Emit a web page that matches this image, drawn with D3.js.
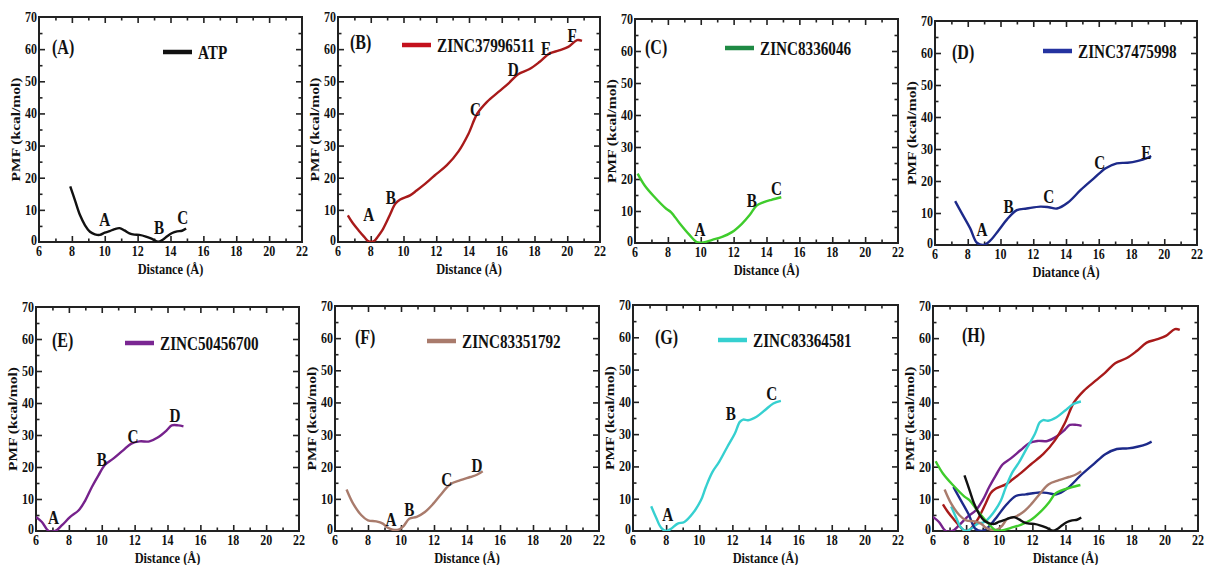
<!DOCTYPE html>
<html lang="en">
<head>
    <meta charset="UTF-8">
    <title>PMF profiles</title>
    <script src="https://d3js.org/d3.v7.min.js"></script>
    <style>
        body {
            margin: 0;
            background: #fff;
        }
        svg text {
            font-family: "Liberation Serif", "Times New Roman", serif;
            font-weight: bold;
            fill: #111;
        }
    </style>
</head>
<body>
    <svg id="chart" width="1206" height="565"></svg>

    <script>
        // PMF curves, [distance, pmf]
        const atp = [[7.9,17.3],[8.2,12.8],[8.5,8.3],[8.8,5.2],[9.1,3.2],[9.4,2.4],[9.7,2.2],[10.0,2.9],[10.3,3.4],[10.6,4.0],[10.9,4.3],[11.2,3.6],[11.5,2.7],[11.8,2.3],[12.1,2.2],[12.5,1.7],[12.9,0.9],[13.25,0.1],[13.55,0.8],[13.8,1.8],[14.1,2.8],[14.4,3.3],[14.7,3.5],[14.95,4.2]];
        const zinc37996511 = [[6.6,8.3],[6.9,5.9],[7.26,3.6],[7.6,1.6],[7.87,0.2],[8.2,0.3],[8.45,1.8],[8.7,3.6],[9.0,6.6],[9.2,8.8],[9.5,11.9],[9.8,13.2],[10.4,14.5],[10.8,16],[11.2,17.6],[11.9,20.7],[12.65,23.9],[13.36,28.2],[13.97,33.7],[14.5,39.9],[15.1,43.6],[15.8,46.7],[16.4,49.3],[17.0,52.2],[17.7,53.8],[18.3,56.0],[18.9,58.6],[19.5,59.6],[20.06,60.7],[20.6,62.8],[20.9,62.6]];
        const zinc8336046 = [[6.16,21.7],[6.6,17.9],[7.2,14.3],[7.9,10.7],[8.2,9.6],[8.7,6.25],[9.3,2.6],[9.75,0.3],[10.16,0.2],[10.7,1.0],[11.3,1.9],[11.9,3.4],[12.5,6.0],[13.0,8.9],[13.4,11.7],[13.8,12.7],[14.3,13.5],[14.9,14.3]];
        const zinc37475998 = [[7.23,13.7],[7.64,9.9],[8.15,5.2],[8.56,0.7],[8.97,0],[9.37,1.35],[9.9,4.7],[10.4,8.0],[11.0,10.9],[11.6,11.4],[12.44,12.0],[12.95,11.8],[13.45,11.4],[14.1,13.2],[14.9,17.2],[15.7,20.8],[16.4,23.9],[17.1,25.5],[17.76,25.7],[18.4,26.3],[18.9,27.05],[19.2,27.8]];
        const zinc50456700 = [[6.0,4.4],[6.36,2.8],[6.77,0],[7.17,0],[7.58,1.8],[8.08,4.4],[8.6,6.5],[9.0,9.6],[9.4,13.75],[9.8,17.4],[10.2,20.7],[10.7,22.6],[11.3,25.2],[11.8,27.3],[12.3,28.0],[12.9,28.0],[13.4,29.2],[13.96,31.5],[14.26,33.0],[14.66,33.0],[14.97,32.7]];
        const zinc83351792 = [[6.7,12.9],[7.1,8.5],[7.6,4.9],[8.0,3.3],[8.5,3.0],[8.9,2.3],[9.2,1.0],[9.5,0.4],[9.84,0.4],[10.14,1.45],[10.5,3.8],[10.95,4.4],[11.45,5.9],[11.96,8.5],[12.46,11.6],[12.97,14.5],[13.6,15.8],[14.2,16.8],[14.6,17.5],[14.95,18.6]];
        const zinc83364581 = [[7.1,7.65],[7.4,4.1],[7.7,1.0],[8.0,0],[8.3,0.7],[8.7,2.3],[9.1,2.8],[9.6,5.4],[10.1,9.5],[10.4,13.65],[10.8,18.3],[11.2,21.4],[11.7,26.1],[12.15,30.2],[12.45,33.8],[12.65,34.5],[12.95,34.3],[13.46,35.4],[13.96,37.4],[14.47,39.5],[14.93,40.3]];

        const seriesNames = ["ATP", "ZINC37996511", "ZINC8336046", "ZINC37475998", "ZINC50456700", "ZINC83351792", "ZINC83364581"];
        const seriesData = [atp, zinc37996511, zinc8336046, zinc37475998, zinc50456700, zinc83351792, zinc83364581];

        // point labels [letter, distance, pmf]
        const annA = [["A",10.0,6.9],["B",13.3,4.3],["C",14.75,7.4]];
        const annB = [["A",7.87,8.5],["B",9.23,13.7],["C",14.4,41.2],["D",16.7,53.6],["E",18.7,60.0],["F",20.3,64.2]];
        const annC = [["A",9.95,4.2],["B",13.1,13.2],["C",14.6,16.9]];
        const annD = [["A",8.87,4.7],["B",10.5,12.0],["C",12.95,14.9],["C",16.06,25.5],["E",18.9,28.8]];
        const annE = [["A",7.07,4.2],["B",10.0,22.1],["C",11.9,29.4],["D",14.46,36.1]];
        const annF = [["A",9.4,3.3],["B",10.5,6.6],["C",12.77,16.0],["D",14.6,20.1]];
        const annG = [["A",8.1,4.9],["B",11.9,36.4],["C",14.37,42.6]];

        const panelLetters = ["(A)", "(B)", "(C)", "(D)", "(E)", "(F)", "(G)", "(H)"];
        const xTicks = [6, 8, 10, 12, 14, 16, 18, 20, 22];
        const yTicks = [0, 10, 20, 30, 40, 50, 60, 70];

        // styling
        const lineColors = ["#111111", "#a81a1a", "#3fcc2c", "#1d2a8a", "#76228c", "#a97b6c", "#36d0d0"];
        const legendColors = ["#111111", "#c4111d", "#1f8a44", "#2433a0", "#7a2692", "#a97b6c", "#36d0d0"];
        const SQ = 0.8; // picture is squeezed horizontally

        // frame boxes [left, right, top, bottom], legend offset, label offset
        const panels = [
            { box: [39, 302, 17, 242],  series: [0], ann: annA, leg: [124, 35], lab: [13, 30], xt: "Distance (Å)" },
            { box: [338, 600, 17, 242], series: [1], ann: annB, leg: [64, 28],  lab: [12, 25], xt: "Distance (Å)" },
            { box: [635, 898, 19, 243], series: [2], ann: annC, leg: [90, 29],  lab: [10, 28], xt: "Distance (Å)" },
            { box: [935, 1197, 21, 245], series: [3], ann: annD, leg: [108, 30], lab: [17, 31], xt: "Diatance (Å)" },
            { box: [36, 299, 307, 531], series: [4], ann: annE, leg: [89, 36],  lab: [16, 33], xt: "Distance (Å)" },
            { box: [335, 599, 306, 531], series: [5], ann: annF, leg: [92, 35], lab: [20, 31], xt: "Distance (Å)" },
            { box: [633, 898, 305, 531], series: [6], ann: annG, leg: [85, 35], lab: [22, 32], xt: "Distance (Å)" },
            { box: [933, 1198, 306, 531], series: [4, 1, 6, 3, 5, 2, 0], ann: [], leg: null, lab: [29, 29], xt: "Distance (Å)" }
        ];

        const svg = d3.select("#chart");

        function squeezedText(g, x, y, str, size, anchor, rot) {
            return g.append("text")
                .attr("transform", `translate(${x},${y}) scale(${SQ},1)` + (rot ? ` rotate(${rot})` : ""))
                .attr("text-anchor", anchor)
                .attr("dominant-baseline", "central")
                .style("font-size", size + "px")
                .text(str);
        }

        panels.forEach((p, i) => {
            const [l, r, t, b] = p.box;
            const x = d3.scaleLinear().domain([6, 22]).range([l, r]);
            const y = d3.scaleLinear().domain([0, 70]).range([b, t]);
            const g = svg.append("g");

            g.append("clipPath").attr("id", "clip" + i)
                .append("rect").attr("x", l).attr("y", t - 4).attr("width", r - l).attr("height", b - t + 4);

            // inward ticks on all four sides
            const minorX = d3.range(7, 22, 2), minorY = d3.range(5, 70, 10);
            const tickStyle = sel => sel.call(s => s.select(".domain").remove())
                .call(s => s.selectAll("line").attr("stroke", "#222").attr("stroke-width", 1.6))
                .call(s => s.selectAll("text").remove());
            g.append("g").attr("transform", `translate(0,${b})`).call(d3.axisTop(x).tickValues(xTicks.slice(1, -1)).tickSize(6)).call(tickStyle);
            g.append("g").attr("transform", `translate(0,${b})`).call(d3.axisTop(x).tickValues(minorX).tickSize(3.5)).call(tickStyle);
            g.append("g").attr("transform", `translate(0,${t})`).call(d3.axisBottom(x).tickValues(xTicks.slice(1, -1)).tickSize(6)).call(tickStyle);
            g.append("g").attr("transform", `translate(0,${t})`).call(d3.axisBottom(x).tickValues(minorX).tickSize(3.5)).call(tickStyle);
            g.append("g").attr("transform", `translate(${l},0)`).call(d3.axisRight(y).tickValues(yTicks.slice(1, -1)).tickSize(6)).call(tickStyle);
            g.append("g").attr("transform", `translate(${l},0)`).call(d3.axisRight(y).tickValues(minorY).tickSize(3.5)).call(tickStyle);
            g.append("g").attr("transform", `translate(${r},0)`).call(d3.axisLeft(y).tickValues(yTicks.slice(1, -1)).tickSize(6)).call(tickStyle);
            g.append("g").attr("transform", `translate(${r},0)`).call(d3.axisLeft(y).tickValues(minorY).tickSize(3.5)).call(tickStyle);

            g.append("rect")
                .attr("x", l).attr("y", t).attr("width", r - l).attr("height", b - t)
                .attr("fill", "none").attr("stroke", "#222").attr("stroke-width", 2);

            // tick labels
            xTicks.forEach(v => squeezedText(g, x(v), b + 9, v, 15, "middle"));
            yTicks.forEach(v => squeezedText(g, l - 2, y(v) - (v === 0 ? 2 : 0), v, 15, "end"));

            // axis titles
            squeezedText(g, (l + r) / 2, b + 26, p.xt, 15.5, "middle");
            squeezedText(g, l - 23, (t + b) / 2, "PMF (kcal/mol)", 15.5, "middle", -90);

            // curves
            const line = d3.line().x(d => x(d[0])).y(d => y(d[1])).curve(d3.curveCatmullRom.alpha(0.5));
            p.series.forEach(s => {
                g.append("path")
                    .datum(seriesData[s])
                    .attr("clip-path", `url(#clip${i})`)
                    .attr("fill", "none")
                    .attr("stroke", lineColors[s])
                    .attr("stroke-width", 2.4)
                    .attr("stroke-linejoin", "round")
                    .attr("d", line);
            });

            // point letters
            p.ann.forEach(a => squeezedText(g, x(a[1]), y(a[2]), a[0], 19, "middle"));

            // panel letter
            squeezedText(g, l + p.lab[0], t + p.lab[1], panelLetters[i], 20, "start");

            // legend
            if (p.leg) {
                const s = p.series[0];
                const lx = l + p.leg[0], ly = t + p.leg[1];
                g.append("line")
                    .attr("x1", lx).attr("x2", lx + 29).attr("y1", ly).attr("y2", ly)
                    .attr("stroke", legendColors[s]).attr("stroke-width", 4.5);
                squeezedText(g, lx + 35, ly + 1, seriesNames[s], 19, "start");
            }
        });
    </script>
</body>
</html>
